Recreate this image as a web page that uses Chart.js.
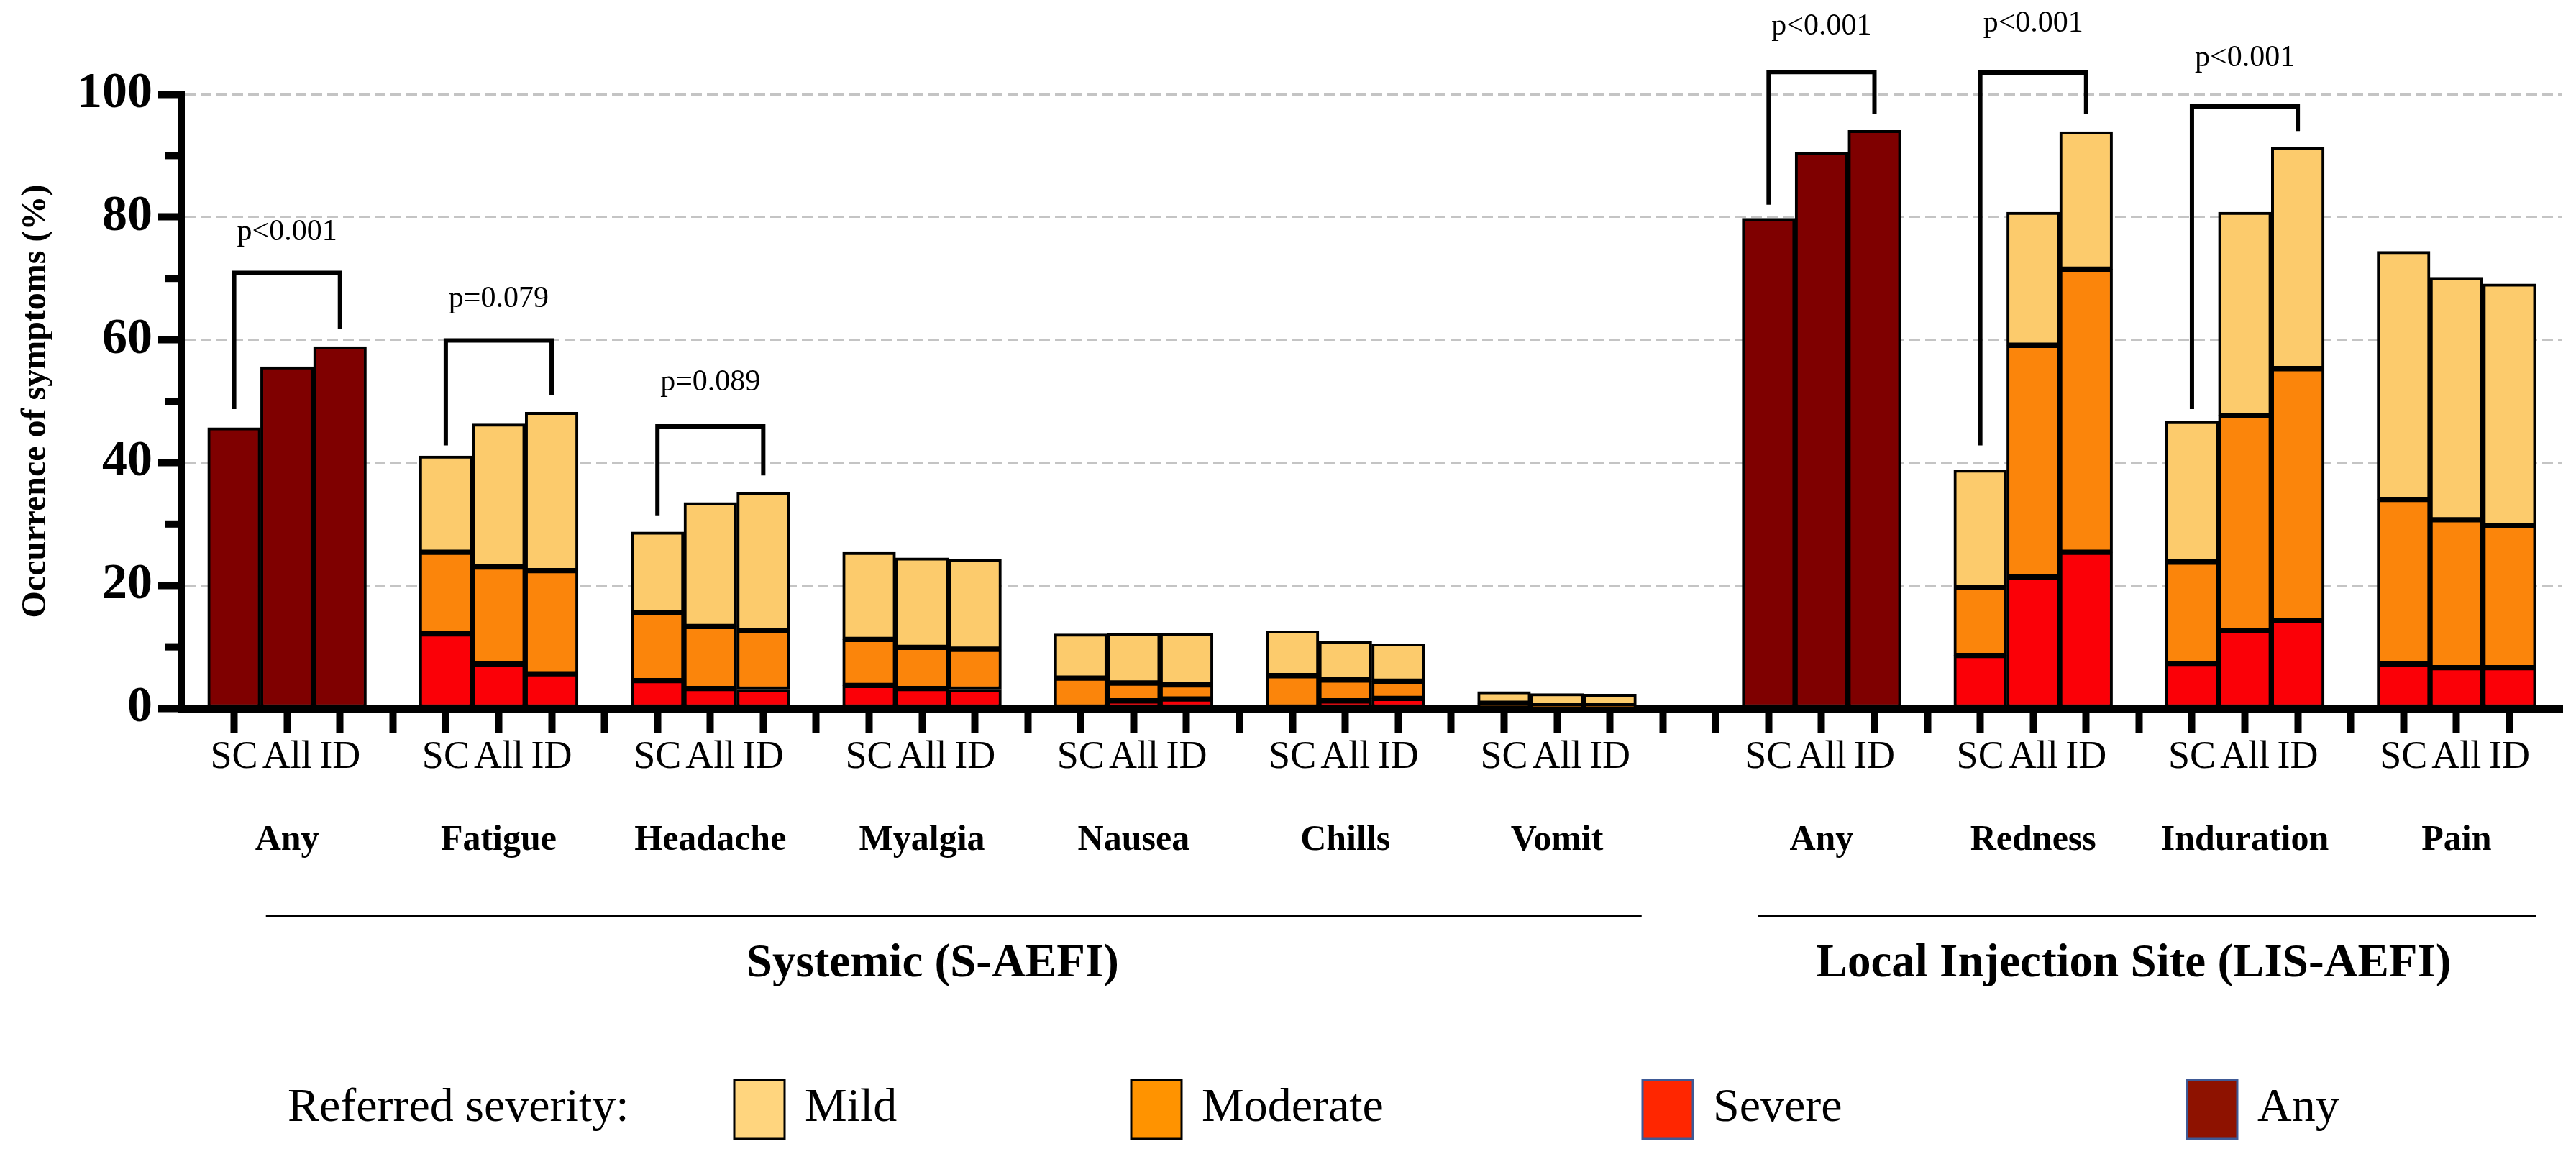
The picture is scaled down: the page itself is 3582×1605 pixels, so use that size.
<!DOCTYPE html>
<html>
<head>
<meta charset="utf-8">
<script src="https://cdn.jsdelivr.net/npm/chart.js@4.4.1/dist/chart.umd.min.js"></script>
<style>
  html, body { margin: 0; padding: 0; background: #fff; }
  canvas { display: block; }
</style>
</head>
<body>
<canvas id="grafico" width="3582" height="1605"></canvas>
<script>
// groups along the x axis (7 systemic + 4 local)
const grupos = ['Any', 'Fatigue', 'Headache', 'Myalgia', 'Nausea', 'Chills', 'Vomit',
                'Any', 'Redness', 'Induration', 'Pain'];
const vias = ['SC', 'All', 'ID'];
// slot where each group starts (one empty slot between groups, two between sections)
const inicioGrupo = [1, 5, 9, 13, 17, 21, 25, 30, 34, 38, 42];
const totalSlots = 46;

// stacked segments (%), 3 bars per group: SC, All, ID
const severo = [
  null, null, null,
  12.1, 7.2, 5.6,
  4.5, 3.2, 3.1,
  3.7, 3.2, 3.1,
  0, 1.2, 1.5,
  0, 1.2, 1.6,
  0, 0, 0,
  null, null, null,
  8.6, 21.4, 25.4,
  7.3, 12.6, 14.3,
  7.2, 6.6, 6.6
];
const moderado = [
  null, null, null,
  13.3, 15.8, 16.8,
  11.1, 10.1, 9.5,
  7.5, 6.7, 6.5,
  4.9, 2.9, 2.3,
  5.3, 3.4, 2.8,
  0.8, 0.4, 0.4,
  null, null, null,
  11.1, 37.7, 46.1,
  16.5, 35.1, 41.0,
  26.8, 24.1, 23.1
];
const leve = [
  null, null, null,
  15.7, 23.3, 25.8,
  13.1, 20.2, 22.6,
  14.2, 14.6, 14.6,
  7.2, 8.1, 8.4,
  7.3, 6.3, 6.1,
  1.9, 2.0, 1.9,
  null, null, null,
  19.1, 21.7, 22.4,
  22.9, 33.1, 36.1,
  40.4, 39.5, 39.4
];
const qualquer = [
  45.7, 55.6, 58.9,
  null, null, null, null, null, null, null, null, null,
  null, null, null, null, null, null, null, null, null,
  79.8, 90.6, 94.1,
  null, null, null, null, null, null, null, null, null
];

// p-value brackets
const chaveGrupo = [0, 1, 2, 7, 8, 9];
const chaveTopo = [70.9, 59.9, 45.9, 103.6, 103.5, 98.0];
const chaveEsq = [48.7, 42.8, 31.4, 82.0, 42.8, 48.7];
const chaveDir = [61.8, 51.0, 37.9, 96.8, 96.8, 94.0];
const chaveTexto = ['p<0.001', 'p=0.079', 'p=0.089', 'p<0.001', 'p<0.001', 'p<0.001'];
const chaveTextoY = [77.5, 66.6, 53.0, 111.0, 111.5, 105.8];

const legendaNomes = ['Mild', 'Moderate', 'Severe', 'Any'];

const FONTE = '"Liberation Serif", "Times New Roman", serif';

function paraSlots(valores) {
  const out = new Array(totalSlots).fill(null);
  for (let g = 0; g < grupos.length; g++) {
    for (let k = 0; k < 3; k++) {
      out[inicioGrupo[g] + k] = valores[g * 3 + k];
    }
  }
  return out;
}

const rotulos = new Array(totalSlots).fill('');
for (let g = 0; g < grupos.length; g++) {
  for (let k = 0; k < 3; k++) rotulos[inicioGrupo[g] + k] = vias[k];
}

const extras = {
  id: 'extras',
  afterDraw(chart) {
    const ctx = chart.ctx;
    const x = chart.scales.x;
    const y = chart.scales.y;
    ctx.save();

    // minor y ticks
    ctx.fillStyle = '#000';
    for (let v = 10; v < 100; v += 20) {
      const py = y.getPixelForValue(v);
      ctx.fillRect(chart.chartArea.left - 23, py - 5, 20, 10);
    }

    // brackets
    ctx.strokeStyle = '#000';
    ctx.lineWidth = 6;
    ctx.lineJoin = 'miter';
    ctx.fillStyle = '#000';
    ctx.font = '42px ' + FONTE;
    ctx.textAlign = 'center';
    ctx.textBaseline = 'middle';
    for (let i = 0; i < chaveGrupo.length; i++) {
      const g = chaveGrupo[i];
      const xl = x.getPixelForValue(inicioGrupo[g]);
      const xr = x.getPixelForValue(inicioGrupo[g] + 2);
      const yt = y.getPixelForValue(chaveTopo[i]);
      ctx.beginPath();
      ctx.moveTo(xl, y.getPixelForValue(chaveEsq[i]));
      ctx.lineTo(xl, yt);
      ctx.lineTo(xr, yt);
      ctx.lineTo(xr, y.getPixelForValue(chaveDir[i]));
      ctx.stroke();
      ctx.fillText(chaveTexto[i], (xl + xr) / 2, y.getPixelForValue(chaveTextoY[i]));
    }

    // group names
    ctx.font = 'bold 50px ' + FONTE;
    ctx.textBaseline = 'alphabetic';
    for (let g = 0; g < grupos.length; g++) {
      ctx.fillText(grupos[g], x.getPixelForValue(inicioGrupo[g] + 1), 1182);
    }

    // section lines and titles
    ctx.lineWidth = 3;
    ctx.beginPath();
    ctx.moveTo(x.getPixelForValue(1.6), 1274);
    ctx.lineTo(x.getPixelForValue(27.6), 1274);
    ctx.moveTo(x.getPixelForValue(29.8), 1274);
    ctx.lineTo(x.getPixelForValue(44.5), 1274);
    ctx.stroke();
    ctx.font = 'bold 65px ' + FONTE;
    ctx.textBaseline = 'middle';
    ctx.fillText('Systemic (S-AEFI)', x.getPixelForValue(14.2), 1341);
    ctx.fillText('Local Injection Site (LIS-AEFI)', x.getPixelForValue(36.9), 1341);

    // legend
    ctx.font = '66px ' + FONTE;
    ctx.textAlign = 'left';
    ctx.fillText('Referred severity:', 400, 1542);
    const caixaX = [1021, 1573, 2284, 3041];
    const caixaCor = ['#FFD57E', '#FF9300', '#FF2600', '#8E1200'];
    const caixaBorda = ['#000', '#000', '#3F5A96', '#3F5A96'];
    for (let i = 0; i < legendaNomes.length; i++) {
      ctx.fillStyle = caixaCor[i];
      ctx.fillRect(caixaX[i], 1502, 70, 82);
      ctx.strokeStyle = caixaBorda[i];
      ctx.lineWidth = 3;
      ctx.strokeRect(caixaX[i], 1502, 70, 82);
      ctx.fillStyle = '#000';
      ctx.fillText(legendaNomes[i], caixaX[i] + 98, 1542);
    }
    ctx.restore();
  }
};

const barra = { borderColor: '#000', borderWidth: 4, borderSkipped: false,
                barPercentage: 1, categoryPercentage: 1 };

new Chart(document.getElementById('grafico'), {
  type: 'bar',
  data: {
    labels: rotulos,
    datasets: [
      Object.assign({ label: 'Severe', data: paraSlots(severo), backgroundColor: '#FB0007' }, barra),
      Object.assign({ label: 'Moderate', data: paraSlots(moderado), backgroundColor: '#FB850B' }, barra),
      Object.assign({ label: 'Mild', data: paraSlots(leve), backgroundColor: '#FCCB6C' }, barra),
      Object.assign({ label: 'Any', data: paraSlots(qualquer), backgroundColor: '#7F0000' }, barra)
    ]
  },
  options: {
    responsive: false,
    devicePixelRatio: 1,
    animation: false,
    events: [],
    layout: { padding: { top: 131, right: 19, left: 0, bottom: 0 } },
    plugins: { legend: { display: false }, tooltip: { enabled: false } },
    scales: {
      x: {
        stacked: true,
        offset: false,
        afterFit: s => { s.height = 620; },
        grid: {
          offset: false,
          drawOnChartArea: false,
          drawTicks: true,
          tickLength: 34,
          tickWidth: 10,
          tickColor: c => (c.index === 0 || c.index === totalSlots - 1) ? 'rgba(0,0,0,0)' : '#000'
        },
        border: { display: true, color: '#000', width: 11 },
        ticks: {
          autoSkip: false, maxRotation: 0, minRotation: 0, padding: 2,
          color: '#000', font: { family: FONTE, size: 54 }
        }
      },
      y: {
        stacked: true,
        min: 0,
        max: 100,
        afterFit: s => { s.width = 252; },
        grid: {
          color: c => c.tick.value % 20 === 0 ? '#c4c4c4' : '#e0e0e0',
          lineWidth: 3,
          tickLength: 32,
          tickWidth: 10,
          tickColor: c => c.tick.value % 20 === 0 ? '#000' : 'rgba(0,0,0,0)'
        },
        border: { display: true, color: '#000', width: 9, dash: [15, 7] },
        ticks: {
          stepSize: 10,
          padding: 8,
          color: '#000',
          font: { family: FONTE, size: 70, weight: 'bold' },
          callback: v => v % 20 === 0 ? v : ''
        },
        title: {
          display: true,
          text: 'Occurrence of symptoms (%)',
          color: '#000',
          font: { family: FONTE, size: 48, weight: 'bold' },
          padding: { top: 22, bottom: 0 }
        }
      }
    }
  },
  plugins: [extras]
});
</script>
</body>
</html>
